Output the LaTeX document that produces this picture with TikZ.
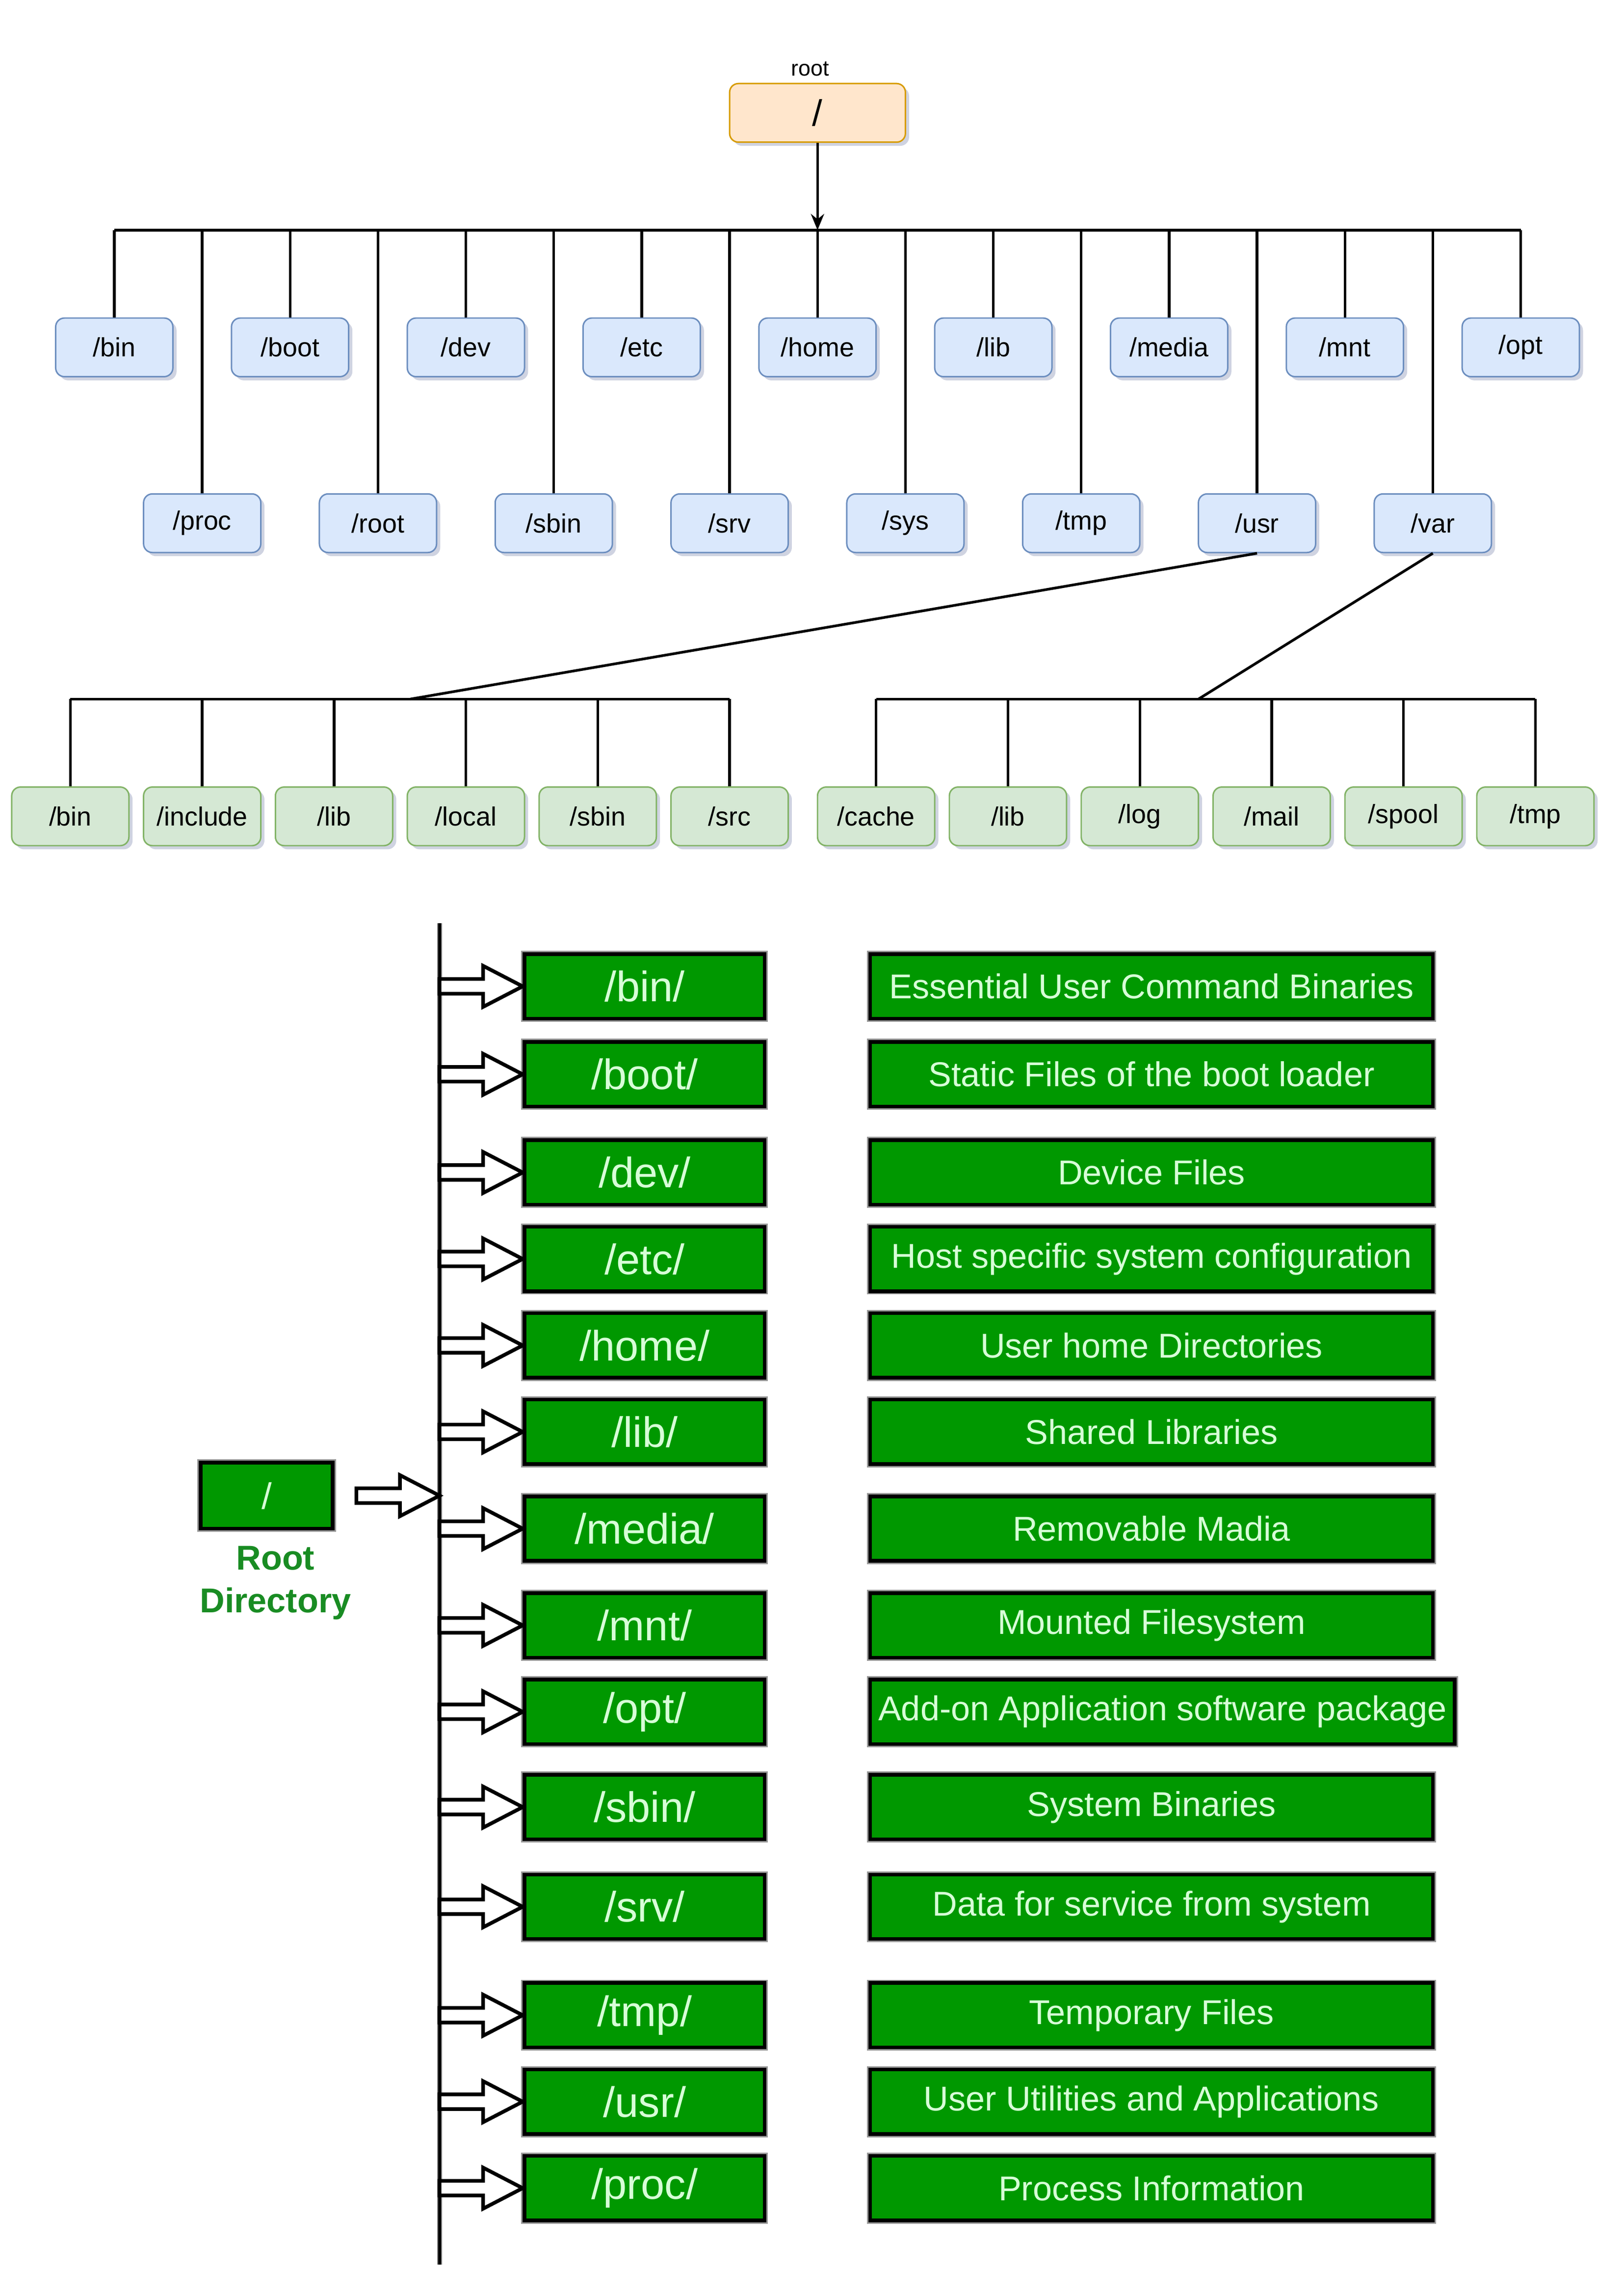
\documentclass[tikz,border=0pt]{standalone}
\usepackage{fontspec}
\setmainfont{Liberation Sans}
\usetikzlibrary{calc,shadows,arrows.meta}
\definecolor{bluefill}{HTML}{DAE8FC}
\definecolor{bluedraw}{HTML}{6C8EBF}
\definecolor{grnfill}{HTML}{D5E8D4}
\definecolor{grndraw}{HTML}{82B366}
\definecolor{orfill}{HTML}{FFE6CC}
\definecolor{ordraw}{HTML}{D79B00}
\definecolor{boxgreen}{RGB}{0,152,0}
\definecolor{lighttxt}{RGB}{215,255,215}
\definecolor{labgreen}{RGB}{25,140,35}
\definecolor{shadowcol}{RGB}{120,130,170}
\newcommand\myblockarrow[2]{%
  \draw[blockarrowstyle]
    ($(#1)+(0,-5)$) -- ($(#2)+(-27,-5)$) -- ($(#2)+(-27,-14)$) -- (#2)
    -- ($(#2)+(-27,14)$) -- ($(#2)+(-27,5)$) -- ($(#1)+(0,5)$) -- cycle;}
\begin{document}
\begin{tikzpicture}[x=1pt,y=-1pt,
  shadowed/.style={drop shadow={shadow xshift=2.5pt,shadow yshift=-2.5pt,opacity=0.35,fill=shadowcol}},
  tbox/.style={rectangle,rounded corners=6pt,minimum width=80pt,minimum height=40pt,inner sep=0pt,
    font=\fontsize{18}{20}\selectfont,line width=1pt,shadowed},
  bluebox/.style={tbox,fill=bluefill,draw=bluedraw},
  greenbox/.style={tbox,fill=grnfill,draw=grndraw},
  rootbox/.style={tbox,minimum width=120pt,fill=orfill,draw=ordraw,font=\fontsize{25}{27}\selectfont},
  treeline/.style={line width=1.8pt,black},
  gbox/.style={rectangle,fill=boxgreen,draw=black,line width=2.5pt,
    preaction={draw=gray!80,line width=4.5pt},text=lighttxt,inner sep=0pt,minimum height=44pt},
  dirbox/.style={gbox,minimum width=164pt,font=\fontsize{29}{32}\selectfont},
  descbox/.style={gbox,font=\fontsize{23.5}{26}\selectfont},
  blockarrowstyle/.style={draw=black,line width=2.5pt,fill=white,line join=miter,miter limit=10},
]
\useasboundingbox (0,0) rectangle (1107.5,1566.6);
\fill[white] (0,0) rectangle (1107.5,1566.6);

% ---------- top tree ----------
\node[font=\fontsize{15}{17}\selectfont] (rootlab) at (553,47) {root};
\node[rootbox] (root) at (558,77) {/};
\coordinate (busL) at (78,157);
\coordinate (busR) at (1038,157);
\draw[treeline] (busL) -- (busR);
\draw[treeline,-{Stealth[length=11pt,width=9pt]}] (root.south) -- (root.south |- busL);

\foreach \n/\x in {bin/78,boot/198,dev/318,etc/438,home/558,lib/678,media/798,mnt/918,opt/1038}{
  \node[bluebox] (t\n) at (\x,237) {/\n};
  \draw[treeline] (t\n.north) -- (t\n.north |- busL);
}
\foreach \n/\x in {proc/138,root/258,sbin/378,srv/498,sys/618,tmp/738,usr/858,var/978}{
  \node[bluebox] (t\n) at (\x,357) {/\n};
  \draw[treeline] (t\n.north) -- (t\n.north |- busL);
}

% /usr subtree
\coordinate (ubL) at (48,477);
\coordinate (ubR) at (498,477);
\coordinate (ujoin) at (280,477);
\draw[treeline] (ubL) -- (ubR);
\draw[treeline] (tusr.south) -- (ujoin);
\foreach \n/\x in {bin/48,include/138,lib/228,local/318,sbin/408,src/498}{
  \node[greenbox] (u\n) at (\x,557) {/\n};
  \draw[treeline] (u\n.north) -- (u\n.north |- ubL);
}

% /var subtree
\coordinate (vbL) at (598,477);
\coordinate (vbR) at (1048,477);
\coordinate (vjoin) at (818,477);
\draw[treeline] (vbL) -- (vbR);
\draw[treeline] (tvar.south) -- (vjoin);
\foreach \n/\x in {cache/598,lib/688,log/778,mail/868,spool/958,tmp/1048}{
  \node[greenbox] (v\n) at (\x,557) {/\n};
  \draw[treeline] (v\n.north) -- (v\n.north |- vbL);
}

% ---------- bottom list ----------
\coordinate (vtop) at (300,630);
\coordinate (vbot) at (300,1545);
\draw[line width=2pt,preaction={draw=gray,line width=3.2pt}] (vtop) -- (vbot);

\node[gbox,minimum width=90pt,minimum height=45pt,font=\fontsize{25}{27}\selectfont] (rootg) at (182,1020.5) {/};
\node[font=\bfseries\fontsize{23.5}{29}\selectfont,text=labgreen,align=center] (rootglab) at (188,1080) {Root\\Directory};
\coordinate (ra) at ($(rootg.east)+(15,0)$);
\coordinate (rb) at (vtop |- rootg.east);
\myblockarrow{ra}{rb}

\foreach \n/\y/\w/\cx/\t in {
  bin/673/384/786/Essential User Command Binaries,
  boot/733/384/786/Static Files of the boot loader,
  dev/800/384/786/Device Files,
  etc/859/384/786/Host specific system configuration,
  home/918/384/786/User home Directories,
  lib/977/384/786/Shared Libraries,
  media/1043/384/786/Removable Madia,
  mnt/1109/384/786/Mounted Filesystem,
  opt/1168/399/793.5/Add-on Application software package,
  sbin/1233/384/786/System Binaries,
  srv/1301/384/786/Data for service from system,
  tmp/1375/384/786/Temporary Files,
  usr/1434/384/786/User Utilities and Applications,
  proc/1493/384/786/Process Information}{
  \node[dirbox] (d\n) at (440,\y) {/\n/};
  \node[descbox,minimum width=\w pt] (e\n) at (\cx,\y) {\t};
  \coordinate (s\n) at (vtop |- d\n.west);
  \myblockarrow{s\n}{d\n.west}
}
\end{tikzpicture}
\end{document}
